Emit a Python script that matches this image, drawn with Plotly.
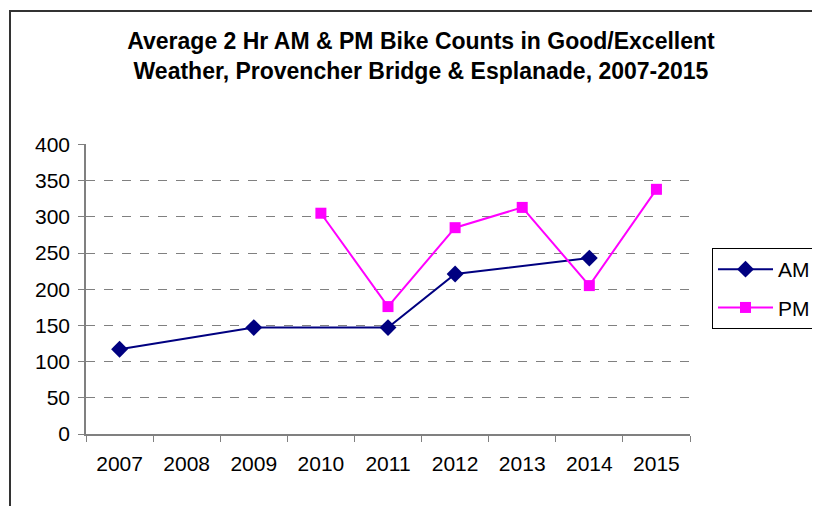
import plotly.graph_objects as go

years = ['2007', '2008', '2009', '2010', '2011', '2012', '2013', '2014', '2015']
am_counts = [117, None, 147, None, 147, 221, None, 243, None]
pm_counts = [None, None, None, 305, 176, 285, 313, 205, 338]
y_ticks = [0, 50, 100, 150, 200, 250, 300, 350, 400]

OFF = 8  # page body margin pushes the figure 8px right/down
W, H = 820, 506
L, T = 86 - OFF, 144 - OFF
pw, ph = 604, 290
R, B = W - L - pw, H - T - ph


def px_x(x):
    return (x - OFF - L) / pw


def px_y(y):
    return (T + ph - (y - OFF)) / ph


fig = go.Figure()

fig.add_trace(go.Scatter(
    x=years, y=am_counts, name='AM', mode='lines+markers',
    connectgaps=True, legendgroup='am',
    line=dict(color='#000080', width=2),
    marker=dict(symbol='diamond', size=13, color='#000080')
))

fig.add_trace(go.Scatter(
    x=years, y=pm_counts, name='PM', mode='lines+markers',
    connectgaps=True, legendgroup='pm',
    line=dict(color='#FF00FF', width=2),
    marker=dict(symbol='square', size=11, color='#FF00FF')
))

# outer chart border: top and left edges (the rest runs off the page)
fig.add_shape(type='line', xref='paper', yref='paper',
              x0=px_x(9), x1=px_x(900), y0=px_y(11), y1=px_y(11),
              line=dict(color='#333333', width=2), layer='above')
fig.add_shape(type='line', xref='paper', yref='paper',
              x0=px_x(10), x1=px_x(10), y0=px_y(10), y1=px_y(600),
              line=dict(color='#333333', width=2), layer='above')

fig.update_layout(
    width=W, height=H,
    margin=dict(l=L, r=R, t=T, b=B),
    plot_bgcolor='white', paper_bgcolor='white',
    font=dict(family='Liberation Sans, Arial, sans-serif', color='black'),
    title=dict(
        text='Average 2 Hr AM &amp; PM Bike Counts in Good/Excellent<br>Weather, Provencher Bridge &amp; Esplanade, 2007-2015',
        xref='container', x=(421 - OFF) / W, xanchor='center', y=1 - 41 / H, yanchor='top',
        font=dict(size=23, color='black', family='Liberation Sans, Arial, sans-serif', weight='bold')
    ),
    showlegend=True,
    legend=dict(
        x=px_x(712), y=px_y(248), xanchor='left', yanchor='top',
        bordercolor='black', borderwidth=1, bgcolor='white',
        font=dict(size=21), itemwidth=55, tracegroupgap=8,
        traceorder='grouped'
    ),
    xaxis=dict(
        type='category', range=[-0.5, 8.5],
        showline=True, linecolor='#808080', linewidth=1.5,
        ticks='outside', tickson='boundaries', ticklen=6, tickcolor='#808080',
        showgrid=False, tickfont=dict(size=21), ticklabelstandoff=10
    ),
    yaxis=dict(
        range=[0, 400.6], tickvals=y_ticks,
        showline=True, linecolor='#808080', linewidth=1.5,
        ticks='outside', ticklen=6, tickcolor='#808080',
        showgrid=True, gridcolor='#808080', griddash='dash', gridwidth=1,
        zeroline=False, tickfont=dict(size=21), ticklabelstandoff=4
    )
)

fig.write_html("out.html", config={'displayModeBar': False})
